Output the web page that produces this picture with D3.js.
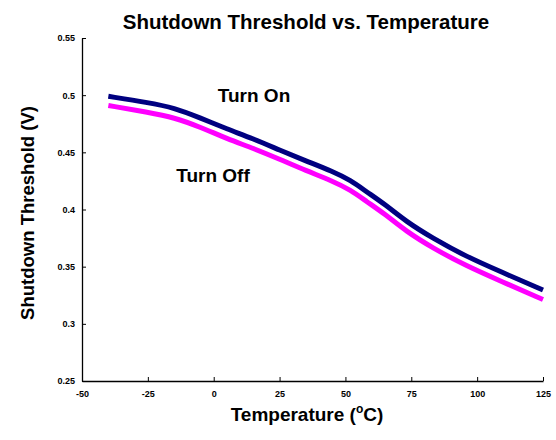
<!DOCTYPE html>
<html>
<head>
<meta charset="utf-8">
<script src="https://cdn.jsdelivr.net/npm/d3@7"></script>
<style>
body { margin: 0; background: #fff; }
text { font-family: "Liberation Sans", Arial, sans-serif; font-weight: bold; }
</style>
</head>
<body>
<div id="chart"></div>
<script>
// valeurs
var temps = [-40, -25, -15, -5, 5, 15, 25, 35, 45, 52, 58, 65, 73, 83, 96, 109, 125];
var turnOn = [0.499, 0.4935, 0.489, 0.480, 0.4705, 0.4618, 0.452, 0.4425, 0.4335, 0.4255, 0.4155, 0.4045, 0.3895, 0.375, 0.3587, 0.3455, 0.3296];
var turnOff = [0.491, 0.485, 0.4805, 0.472, 0.462, 0.4535, 0.444, 0.434, 0.425, 0.417, 0.407, 0.396, 0.381, 0.3665, 0.3505, 0.3373, 0.3213];
var xTicks = [-50, -25, 0, 25, 50, 75, 100, 125];
var yTicks = [0.25, 0.3, 0.35, 0.4, 0.45, 0.5, 0.55];

var larg = 556, haut = 440;
var mLeft = 82, mRight = 543, mTop = 38, mBottom = 381;

var svg = d3.select("#chart").append("svg")
    .attr("width", larg)
    .attr("height", haut);

var x = d3.scaleLinear().domain([-50, 125]).range([mLeft, mRight]);
var y = d3.scaleLinear().domain([0.25, 0.55]).range([mBottom, mTop]);

svg.append("g")
    .attr("transform", "translate(0," + mBottom + ")")
    .call(d3.axisBottom(x).tickValues(xTicks).tickFormat(String).tickSizeInner(-4).tickSizeOuter(0).tickPadding(10));
svg.append("g")
    .attr("transform", "translate(" + mLeft + ",0)")
    .call(d3.axisLeft(y).tickValues(yTicks).tickFormat(String).tickSizeInner(-4).tickSizeOuter(0).tickPadding(7));

svg.selectAll(".domain").attr("stroke", "#000").attr("stroke-width", 1.3);
svg.selectAll(".tick line").attr("stroke", "#000");
svg.selectAll(".tick text").attr("font-size", "9px").attr("font-weight", "bold").attr("fill", "#000")
    .attr("font-family", "'Liberation Sans', Arial, sans-serif");

var line = d3.line()
    .x(function(d, i) { return x(temps[i]); })
    .y(function(d) { return y(d); })
    .curve(d3.curveBasis);

svg.append("path").datum(turnOff)
    .attr("d", line)
    .attr("fill", "none")
    .attr("stroke", "#ff00ff")
    .attr("stroke-width", 5);
svg.append("path").datum(turnOn)
    .attr("d", line)
    .attr("fill", "none")
    .attr("stroke", "#000080")
    .attr("stroke-width", 5);

svg.append("text")
    .attr("x", 306).attr("y", 29)
    .attr("text-anchor", "middle")
    .attr("font-size", "20.5px")
    .text("Shutdown Threshold vs. Temperature");

svg.append("text")
    .attr("x", 254).attr("y", 102)
    .attr("text-anchor", "middle")
    .attr("font-size", "19px")
    .text("Turn On");
svg.append("text")
    .attr("x", 213).attr("y", 182)
    .attr("text-anchor", "middle")
    .attr("font-size", "19px")
    .text("Turn Off");

svg.append("text")
    .attr("transform", "translate(34,213) rotate(-90)")
    .attr("text-anchor", "middle")
    .attr("font-size", "18.5px")
    .text("Shutdown Threshold (V)");

var xt = svg.append("text")
    .attr("x", 307).attr("y", 421)
    .attr("text-anchor", "middle")
    .attr("font-size", "19px");
xt.append("tspan").text("Temperature (");
xt.append("tspan").attr("font-size", "12px").attr("dy", -8).text("o");
xt.append("tspan").attr("dy", 8).text("C)");
</script>
</body>
</html>
